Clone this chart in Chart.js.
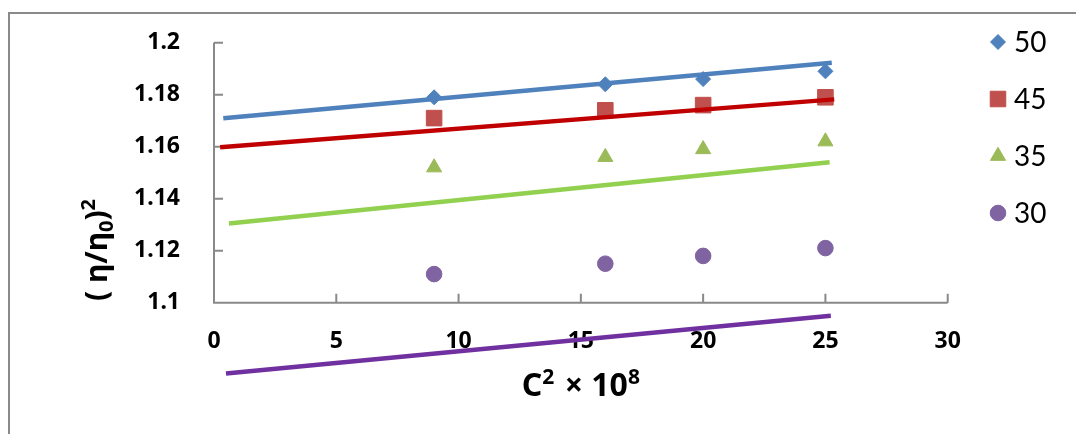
<!DOCTYPE html>
<html>
<head>
<meta charset="utf-8">
<script src="https://cdn.jsdelivr.net/npm/chart.js@4.4.1/dist/chart.umd.min.js"></script>
<style>
  html, body { margin: 0; padding: 0; background: #ffffff; }
  canvas { display: block; }
</style>
</head>
<body>
<canvas id="chart" width="1076" height="434"></canvas>
<script>
// Measured points: C^2 x 10^8 against (eta/eta0)^2 for each temperature
const concentrations = [9, 16, 20, 25];
const series50 = [1.179, 1.184, 1.186, 1.189];
const series45 = [1.171, 1.174, 1.176, 1.179];
const series35 = [1.152, 1.156, 1.159, 1.162];
const series30 = [1.111, 1.115, 1.118, 1.121];

// Straight-line fits, given by their two end points
const trendX50 = [0.38, 25.26];
const trendY50 = [1.1709, 1.1923];
const trendX45 = [0.25, 25.36];
const trendY45 = [1.1598, 1.1782];
const trendX35 = [0.61, 25.17];
const trendY35 = [1.1305, 1.1540];
const trendX30 = [0.49, 25.22];
const trendY30 = [1.0728, 1.0950];

const seriesLabels = ['50', '45', '35', '30'];

// Axis ticks
const xTicks = [0, 5, 10, 15, 20, 25, 30];
const xTickLabels = ['0', '5', '10', '15', '20', '25', '30'];
const yTicks = [1.1, 1.12, 1.14, 1.16, 1.18, 1.2];
const yTickLabels = ['1.1', '1.12', '1.14', '1.16', '1.18', '1.2'];

const BOLD_FONT = '"Noto Sans", "Open Sans", "DejaVu Sans", sans-serif';
const LEGEND_FONT = 'Lato, "Noto Sans", sans-serif';
const AXIS_COLOR = '#898989';

const toPoints = (xs, ys) => xs.map((x, i) => ({ x: x, y: ys[i] }));

const markerSets = [
  { label: seriesLabels[0], values: series50, color: '#4F81BD', style: 'rectRot', radius: 7.5 },
  { label: seriesLabels[1], values: series45, color: '#C0504D', style: 'rect', radius: 11 },
  { label: seriesLabels[2], values: series35, color: '#9BBB59', style: 'triangle', radius: 8.7 },
  { label: seriesLabels[3], values: series30, color: '#8064A2', style: 'circle', radius: 7.8 }
];
const fitSets = [
  { xs: trendX50, ys: trendY50, color: '#4F81BD' },
  { xs: trendX45, ys: trendY45, color: '#C00000' },
  { xs: trendX35, ys: trendY35, color: '#92D050' },
  { xs: trendX30, ys: trendY30, color: '#7030A0' }
];

const datasets = [];
fitSets.forEach(f => datasets.push({
  type: 'line',
  data: toPoints(f.xs, f.ys),
  borderColor: f.color,
  borderWidth: 4.5,
  pointRadius: 0,
  fill: false,
  showLine: true,
  order: 0,
  isFit: true
}));
markerSets.forEach(m => datasets.push({
  label: m.label,
  data: toPoints(concentrations, m.values),
  showLine: false,
  pointStyle: m.style,
  pointRadius: m.radius,
  pointHoverRadius: m.radius,
  backgroundColor: m.color,
  borderColor: m.color,
  borderWidth: 1,
  order: 1
}));

// Axis lines with inward tick marks, crossing at (0, 1.1)
const axesPlugin = {
  id: 'crossedAxes',
  beforeDatasetsDraw(chart) {
    const { ctx, scales: { x, y } } = chart;
    const x0 = x.getPixelForValue(0);
    const x1 = x.getPixelForValue(30);
    const yBase = y.getPixelForValue(1.1);
    const yTop = y.getPixelForValue(1.2);
    ctx.save();
    ctx.strokeStyle = AXIS_COLOR;
    ctx.lineWidth = 2;
    ctx.lineCap = 'butt';
    ctx.beginPath();
    ctx.moveTo(x0, yTop);
    ctx.lineTo(x0, yBase);
    ctx.lineTo(x1, yBase);
    yTicks.forEach(v => {
      const py = y.getPixelForValue(v);
      ctx.moveTo(x0, py);
      ctx.lineTo(x0 + 9, py);
    });
    xTicks.forEach(v => {
      const px = x.getPixelForValue(v);
      ctx.moveTo(px, yBase);
      ctx.lineTo(px, yBase - 9);
    });
    ctx.stroke();
    ctx.restore();
  }
};

// Draws a run of text pieces with their own size and vertical shift
function drawRuns(ctx, runs, startX, baseY) {
  let cx = startX;
  runs.forEach(r => {
    ctx.font = 'bold ' + r.size + 'px ' + BOLD_FONT;
    ctx.fillText(r.text, cx, baseY + (r.dy || 0));
    cx += ctx.measureText(r.text).width + (r.gap || 0);
  });
}
function runsWidth(ctx, runs) {
  let w = 0;
  runs.forEach(r => {
    ctx.font = 'bold ' + r.size + 'px ' + BOLD_FONT;
    w += ctx.measureText(r.text).width + (r.gap || 0);
  });
  return w;
}

const decorPlugin = {
  id: 'decor',
  beforeDraw(chart) {
    const ctx = chart.ctx;
    ctx.save();
    ctx.fillStyle = '#ffffff';
    ctx.fillRect(0, 0, chart.width, chart.height);
    // outer frame (left and top edges)
    ctx.strokeStyle = '#8a8a8a';
    ctx.lineWidth = 2;
    ctx.beginPath();
    ctx.moveTo(9, chart.height);
    ctx.lineTo(9, 13);
    ctx.lineTo(chart.width, 13);
    ctx.stroke();
    ctx.restore();
  },
  afterDraw(chart) {
    const { ctx, chartArea } = chart;
    ctx.save();
    ctx.fillStyle = '#000000';
    ctx.textBaseline = 'alphabetic';
    ctx.textAlign = 'left';

    // x axis title: C² × 10⁸
    const xRuns = [
      { text: 'C', size: 32 },
      { text: '2', size: 21, dy: -12, gap: 2 },
      { text: ' \u00D7 10', size: 32 },
      { text: '8', size: 21, dy: -12 }
    ];
    const cxMid = (chartArea.left + chartArea.right) / 2;
    drawRuns(ctx, xRuns, cxMid - runsWidth(ctx, xRuns) / 2, 396);

    // y axis title: ( η/η₀)²
    const yRuns = [
      { text: '( \u03B7/\u03B7', size: 30 },
      { text: '0', size: 20, dy: 6 },
      { text: ')', size: 30 },
      { text: '2', size: 20, dy: -12 }
    ];
    ctx.translate(107, 250);
    ctx.rotate(-Math.PI / 2);
    drawRuns(ctx, yRuns, -runsWidth(ctx, yRuns) / 2, 0);
    ctx.restore();

    // legend: marker-only entries
    ctx.save();
    const rows = [42, 99, 156, 213];
    chart.data.datasets.filter(d => !d.isFit).forEach((d, i) => {
      ctx.fillStyle = d.backgroundColor;
      ctx.strokeStyle = d.borderColor;
      ctx.lineWidth = 1;
      Chart.helpers.drawPoint(ctx, { pointStyle: d.pointStyle, radius: d.pointRadius, rotation: 0, borderWidth: 1 }, 998, rows[i]);
      ctx.fillStyle = '#000000';
      ctx.font = '28px ' + LEGEND_FONT;
      ctx.textBaseline = 'middle';
      ctx.textAlign = 'left';
      ctx.fillText(d.label, 1014, rows[i] + 1);
    });
    ctx.restore();
  }
};

new Chart(document.getElementById('chart'), {
  type: 'scatter',
  data: { datasets: datasets },
  options: {
    responsive: false,
    animation: false,
    devicePixelRatio: 1,
    layout: { padding: { left: 0, top: 42.7, right: 128.3, bottom: 53.3 } },
    plugins: {
      legend: { display: false },
      tooltip: { enabled: false }
    },
    scales: {
      x: {
        type: 'linear',
        min: 0,
        max: 30,
        position: { y: 1.1 },
        grid: { display: false },
        border: { display: false },
        afterBuildTicks: s => { s.ticks = xTicks.map(v => ({ value: v })); },
        ticks: {
          padding: 17,
          color: '#000000',
          font: { family: BOLD_FONT, size: 23, weight: 'bold' },
          callback: v => xTickLabels[xTicks.indexOf(v)]
        }
      },
      y: {
        type: 'linear',
        min: 1.07,
        max: 1.2,
        grid: { display: false },
        border: { display: false },
        afterBuildTicks: s => { s.ticks = yTicks.map(v => ({ value: v })); },
        afterFit: s => { s.width = 214; },
        ticks: {
          padding: 26,
          color: '#000000',
          font: { family: BOLD_FONT, size: 23, weight: 'bold' },
          callback: v => yTickLabels[yTicks.indexOf(v)]
        }
      }
    }
  },
  plugins: [decorPlugin, axesPlugin]
});
</script>
</body>
</html>
